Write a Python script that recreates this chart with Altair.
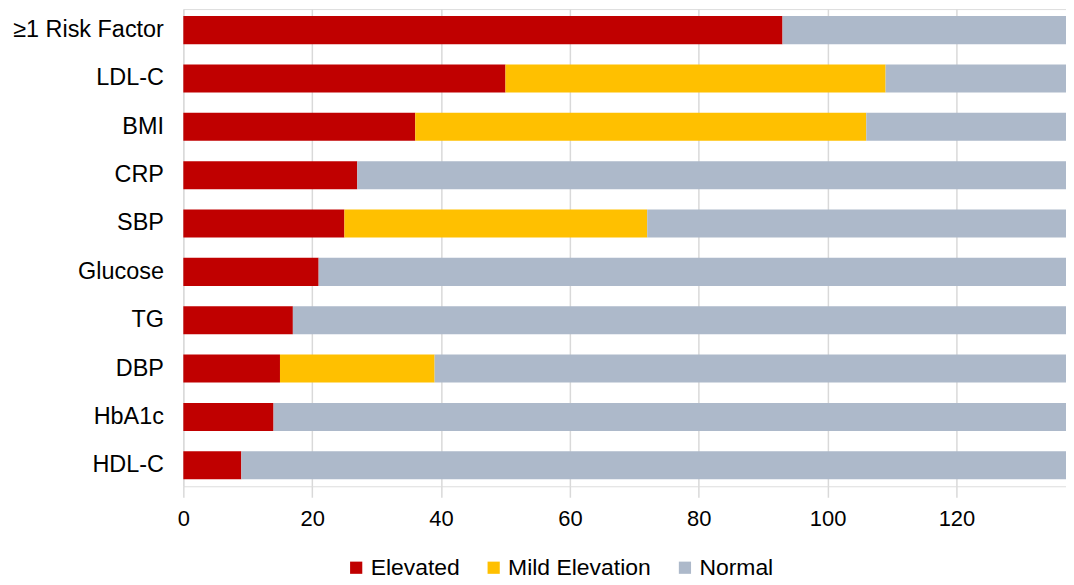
import altair as alt
import pandas as pd

categories = ["≥1 Risk Factor", "LDL-C", "BMI", "CRP", "SBP", "Glucose", "TG", "DBP", "HbA1c", "HDL-C"]
elevated = [93, 50, 36, 27, 25, 21, 17, 15, 14, 9]
mild = [0, 59, 70, 0, 47, 0, 0, 24, 0, 0]
normal = [44, 28, 31, 110, 65, 116, 120, 98, 123, 128]

series = ["Elevated", "Mild Elevation", "Normal"]
colors = ["#C00000", "#FFC000", "#ADB9CA"]

rows = []
for i, c in enumerate(categories):
    for k, (name, vals) in enumerate(zip(series, [elevated, mild, normal])):
        rows.append({"category": c, "series": name, "value": vals[i], "order": k})
df = pd.DataFrame(rows)

FONT = "Liberation Sans"

chart = alt.Chart(df).mark_bar().encode(
    y=alt.Y("category:N", sort=categories, title=None,
            scale=alt.Scale(paddingInner=0.42, paddingOuter=0.145),
            axis=alt.Axis(labelFontSize=23.5, labelFont=FONT, labelColor="#000000",
                          labelPadding=20, ticks=False, domain=False, grid=False)),
    x=alt.X("value:Q", stack="zero", title=None,
            scale=alt.Scale(domain=[0, 137], nice=False),
            axis=alt.Axis(values=[0, 20, 40, 60, 80, 100, 120], labelFontSize=22, labelFont=FONT,
                          labelColor="#000000", grid=True, gridColor="#D9D9D9", gridWidth=1.5,
                          tickColor="#D9D9D9", tickSize=11, tickWidth=1.5, domain=False,
                          labelPadding=11, labelFlush=False)),
    color=alt.Color("series:N", sort=series,
                    scale=alt.Scale(domain=series, range=colors),
                    legend=alt.Legend(title=None, orient="none", legendX=162, legendY=549,
                                      direction="horizontal", symbolType="square",
                                      symbolSize=150, symbolStrokeWidth=0,
                                      labelFontSize=23, labelFont=FONT, labelColor="#000000",
                                      columnPadding=22, labelOffset=3)),
    order=alt.Order("order:Q"),
).properties(
    width=886, height=479,
    autosize=alt.AutoSizeParams(type="none"),
    padding={"left": 176, "top": 0, "right": 0, "bottom": 98},
).configure_view(stroke=None).configure(background="white")

chart.save("out.html", embed_options={"renderer": "svg", "actions": False})
